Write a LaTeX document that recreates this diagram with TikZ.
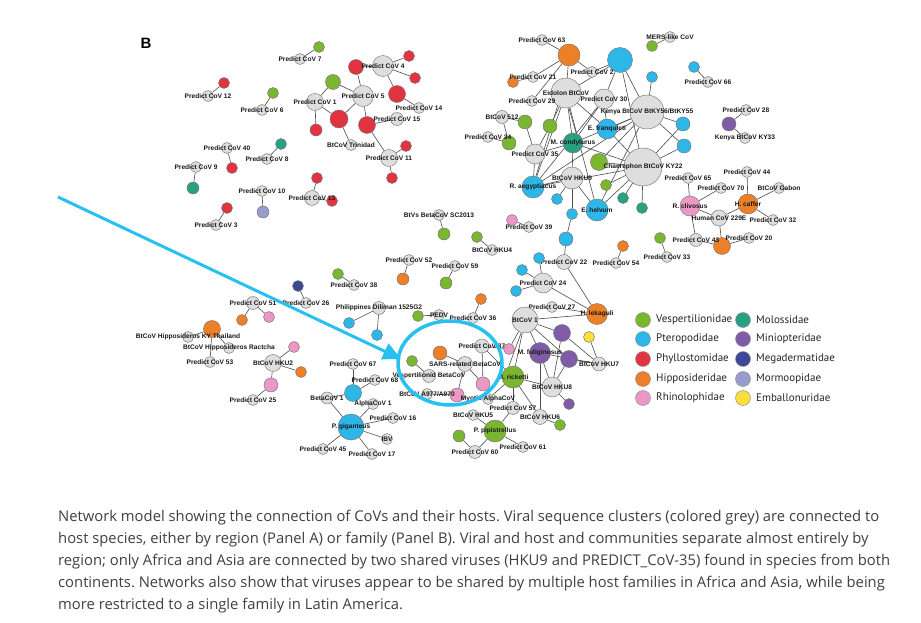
\documentclass[tikz,border=0pt]{standalone}
\usepackage{fontspec}
\setsansfont{Liberation Sans}
\newfontfamily\legfont{PT Sans}
\newfontfamily\capfont{Open Sans}
\usetikzlibrary{arrows.meta,shapes.geometric}

\definecolor{virc}{RGB}{222,222,222}
\definecolor{vespc}{RGB}{122,182,48}
\definecolor{ptec}{RGB}{45,182,232}
\definecolor{phyc}{RGB}{226,52,64}
\definecolor{hipc}{RGB}{236,128,40}
\definecolor{rhic}{RGB}{236,152,196}
\definecolor{molc}{RGB}{40,160,130}
\definecolor{minc}{RGB}{128,92,168}
\definecolor{megc}{RGB}{62,72,150}
\definecolor{morc}{RGB}{150,156,206}
\definecolor{embc}{RGB}{250,222,60}
\definecolor{arrc}{RGB}{40,192,240}
\definecolor{capc}{RGB}{64,64,64}

\pgfdeclarelayer{bg}
\pgfsetlayers{bg,main}

\tikzset{
	nd/.style={shape=circle, draw=black!55, line width=0.45pt, inner sep=0pt, minimum size=11pt},
	vir/.style={nd, fill=virc},
	vesp/.style={nd, fill=vespc},
	ptero/.style={nd, fill=ptec},
	phyl/.style={nd, fill=phyc},
	hipp/.style={nd, fill=hipc},
	rhin/.style={nd, fill=rhic},
	molo/.style={nd, fill=molc},
	minio/.style={nd, fill=minc},
	mega/.style={nd, fill=megc},
	mormo/.style={nd, fill=morc},
	emba/.style={nd, fill=embc},
	lab/.style={font=\sffamily\bfseries\fontsize{6.6}{7}\selectfont, text=black!90, inner sep=0pt},
	txt/.style={label={[lab]center:#1}},
	lnk/.style={-, draw=black!70, line width=0.6pt},
	legc/.style={nd, minimum size=15pt, draw=black!45},
	legt/.style={anchor=west, font=\legfont\fontsize{11}{12}\selectfont, text=black!85, inner sep=0pt},
	captxt/.style={anchor=base west, font=\capfont\fontsize{14.8}{16}\selectfont\frenchspacing, text=capc, inner sep=0pt},
}

\begin{document}
\begin{tikzpicture}[x=1pt, y=-1pt]
	\useasboundingbox (0,0) rectangle (921,623);

	\node[font=\sffamily\bfseries\fontsize{15}{15}\selectfont] (pb) at (146,43) {B};

	% top left, Latin America
	\node[vesp] (g7) at (319,47) {};
	\node[vir, txt=Predict CoV 7] (pc7) at (300,59) {};
	\node[phyl] (r12) at (224,83) {};
	\node[vir, txt=Predict CoV 12] (pc12) at (208,96) {};
	\node[vesp] (g6) at (273,93) {};
	\node[vir, txt=Predict CoV 6] (pc6) at (262,110) {};
	\node[vesp, minimum size=15pt] (g15) at (333,82) {};
	\node[phyl, minimum size=18pt] (r1b) at (339,119) {};
	\node[phyl, minimum size=12pt] (r1c) at (316,130) {};
	\node[vir, minimum size=17pt, txt=Predict CoV 1] (pc1) at (315,102) {};
	\node[vir, txt=BtCoV Trinidad] (trin) at (351,145) {};
	\node[phyl] (r4a) at (409,56) {};
	\node[phyl] (r4b) at (415,78) {};
	\node[phyl, minimum size=15pt] (r5a) at (356,67) {};
	\node[phyl, minimum size=17pt] (r14) at (397,94) {};
	\node[phyl, minimum size=17pt] (r15) at (367,125) {};
	\node[vir, minimum size=21pt, txt=Predict CoV 4] (pc4) at (383,66) {};
	\node[vir, minimum size=21pt, txt=Predict CoV 5] (pc5) at (363,96) {};
	\node[vir, txt=Predict CoV 14] (pc14) at (419,108) {};
	\node[vir, minimum size=13pt, txt=Predict CoV 15] (pc15) at (397,119) {};
	\node[phyl] (r11a) at (406,146) {};
	\node[phyl] (r11b) at (392,178) {};
	\node[vir, minimum size=17pt, txt=Predict CoV 11] (pc11) at (389,158) {};
	\node[phyl] (r40) at (232,168) {};
	\node[vir, txt=Predict CoV 40] (pc40) at (227,148) {};
	\node[molo] (t8) at (281,144) {};
	\node[vir, txt=Predict CoV 8] (pc8) at (267,159) {};
	\node[molo, minimum size=12pt] (t9) at (193,188) {};
	\node[vir, txt=Predict CoV 9] (pc9) at (196,167) {};
	\node[phyl] (r13) at (317,178) {};
	\node[phyl] (r13b) at (332,201) {};
	\node[vir, minimum size=15pt, txt=Predict CoV 13] (pc13) at (312,198) {};
	\node[mormo, minimum size=12pt] (m10) at (263,212) {};
	\node[vir, txt=Predict CoV 10] (pc10) at (262,191) {};
	\node[phyl] (r3) at (227,208) {};
	\node[vir, txt=Predict CoV 3] (pc3) at (216,225) {};

	% top right, Africa
	\node[hipp, minimum size=22pt] (tper) at (569,55) {};
	\node[vir, txt=Predict CoV 63] (pc63) at (542,40) {};
	\node[vesp] (gmers) at (652,46) {};
	\node[vir, txt=MERS-like CoV] (mers) at (670,37) {};
	\node[ptero, minimum size=25pt] (mwoe) at (620,60) {};
	\node[hipp] (o21) at (513,82) {};
	\node[ptero] (b77) at (652,77) {};
	\node[ptero] (b66) at (694,67) {};
	\node[vir, txt=Predict CoV 66] (pc66) at (708,82) {};
	\node[vir, txt=Predict CoV 2] (pc2) at (592,72) {};
	\node[vir, txt=Predict CoV 21] (pc21) at (533,77) {};
	\node[vir, minimum size=30pt, txt=Eidolon BtCoV] (eid) at (566,93) {};
	\node[vir, txt=Predict CoV 29] (pc29) at (532,101) {};
	\node[vir, minimum size=20pt, txt=Predict CoV 30] (pc30) at (604,99) {};
	\node[vir, minimum size=34pt] (kenya) at (647,112) {};
	\node[minio, minimum size=14pt] (p28) at (729,124) {};
	\node[vir, txt=Predict CoV 28] (pc28) at (746,110) {};
	\node[vir, txt=Kenya BtCoV KY33] (ky33) at (745,138) {};
	\node[vesp, minimum size=14pt] (g122) at (525,122) {};
	\node[vesp, minimum size=14pt] (g126) at (550,126) {};
	\node[vesp, minimum size=14pt] (g144) at (509,143) {};
	\node[vir, minimum size=13pt, txt=BtCoV 512] (bt512) at (502,117) {};
	\node[vir, txt=Predict CoV 34] (pc34) at (488,137) {};
	\node[ptero, minimum size=14pt] (b124) at (683,124) {};
	\node[ptero, minimum size=14pt] (b146) at (684,146) {};
	\node[ptero, minimum size=20pt, txt=E. franquleti] (efra) at (607,129) {};
	\node[label={[lab]center:Kenya BtCoV BtKY56/BtKY55}] (kenyat) at (647,112) {};
	\node[molo, minimum size=20pt, txt=M. condylurus] (mcon) at (573,143) {};
	\node[vir, minimum size=20pt, txt=Predict CoV 35] (pc35) at (535,154) {};
	\node[vesp, minimum size=17pt] (g162) at (599,162) {};
	\node[vir, minimum size=38pt, txt=Chaerephon BtCoV KY22] (chae) at (643,167) {};
	\node[vesp] (g185) at (606,185) {};
	\node[molo] (t198) at (623,198) {};
	\node[molo] (t208) at (642,208) {};
	\node[ptero] (b199) at (557,199) {};
	\node[ptero] (b214) at (572,214) {};
	\node[vir, minimum size=22pt, txt=BtCoV HKU9] (hku9) at (572,178) {};
	\node[ptero, minimum size=22pt, txt=R. aegyptiacus] (raeg) at (533,187) {};
	\node[ptero, minimum size=22pt, txt=E. helvum] (ehel) at (597,210) {};
	\node[rhin] (p220) at (512,220) {};
	\node[vir, txt=Predict CoV 39] (pc39) at (529,227) {};
	\node[ptero, minimum size=14pt] (b239) at (566,239) {};
	\node[vir, minimum size=15pt, txt=Predict CoV 22] (pc22) at (564,262) {};

	% right
	\node[vir, txt=Predict CoV 65] (pc65) at (688,178) {};
	\node[vir, txt=Predict CoV 70] (pc70) at (721,188) {};
	\node[vir, txt=Predict CoV 44] (pc44) at (747,172) {};
	\node[vir, txt=BtCoV Gabon] (gab) at (779,188) {};
	\node[vir, txt=Predict CoV 32] (pc32) at (773,220) {};
	\node[hipp, minimum size=17pt] (o246) at (722,246) {};
	\node[vir, minimum size=13pt, txt=Predict CoV 43] (pc43) at (696,240) {};
	\node[vir, txt=Predict CoV 20] (pc20) at (749,238) {};
	\node[rhin, minimum size=20pt, txt=R. clivosus] (rcli) at (690,206) {};
	\node[hipp, minimum size=20pt, txt=H. caffer] (hcaf) at (748,204) {};
	\node[vir, minimum size=16pt, txt=Human CoV 229E] (hcov) at (719,218) {};
	\node[vesp] (g238) at (660,238) {};
	\node[vir, txt=Predict CoV 33] (pc33) at (667,257) {};
	\node[hipp] (o624) at (623,246) {};
	\node[vir, txt=Predict CoV 54] (pc54) at (616,263) {};

	% middle
	\node[vesp, minimum size=12pt] (g234) at (444,234) {};
	\node[vir, txt=BtVs BetaCoV SC2013] (sc2013) at (439,215) {};
	\node[vesp] (g237) at (477,237) {};
	\node[vir, txt=BtCoV HKU4] (hku4) at (492,250) {};
	\node[hipp, minimum size=12pt] (o279) at (403,279) {};
	\node[vir, txt=Predict CoV 52] (pc52) at (409,260) {};
	\node[vesp, minimum size=12pt] (g283) at (446,283) {};
	\node[vir, txt=Predict CoV 59] (pc59) at (455,266) {};
	\node[vesp] (g274) at (338,274) {};
	\node[vir, txt=Predict CoV 38] (pc38) at (354,285) {};
	\node[mega] (n286) at (298,286) {};
	\node[vir, txt=Predict CoV 26] (pc26) at (306,303) {};
	\node[ptero] (b323) at (349,323) {};
	\node[ptero] (b335) at (377,335) {};
	\node[vir, minimum size=13pt, txt=Philippines Diliman 1525G2] (phil) at (379,308) {};
	\node[vesp] (g316) at (418,316) {};
	\node[vir, txt=PEDV] (pedv) at (439,315) {};
	\node[hipp] (o299) at (481,299) {};
	\node[vir, txt=Predict CoV 36] (pc36) at (473,318) {};
	\node[ptero] (b258) at (539,258) {};
	\node[ptero] (b270) at (522,270) {};
	\node[ptero] (b291) at (516,291) {};
	\node[vir, minimum size=20pt, txt=Predict CoV 24] (pc24) at (543,283) {};
	\node[vir, txt=Predict CoV 27] (pc27) at (552,307) {};
	\node[vir, minimum size=26pt, txt=BtCoV 1] (btc1) at (525,320) {};
	\node[hipp, minimum size=21pt, txt=H. lekaguli] (hlek) at (597,314) {};
	\node[minio, minimum size=17pt] (p333) at (562,333) {};
	\node[emba] (y337) at (589,337) {};
	\node[rhin] (p349) at (509,349) {};
	\node[minio, minimum size=17pt] (p359) at (569,359) {};
	\node[minio] (p404) at (569,404) {};
	\node[vesp] (g425) at (560,425) {};
	\node[minio, minimum size=21pt, txt=M. fuliginosus] (mful) at (540,353) {};
	\node[vir, minimum size=14pt, txt=BtCoV HKU7] (hku7) at (599,364) {};
	\node[vir, minimum size=20pt, txt=BtCoV HKU8] (hku8) at (552,387) {};
	\node[vir, minimum size=15pt, txt=BtCoV HKU6] (hku6) at (540,417) {};
	\node[hipp, minimum size=14pt] (o353) at (440,353) {};
	\node[vesp] (g361) at (412,361) {};
	\node[rhin, minimum size=14pt] (p384) at (483,384) {};
	\node[rhin, minimum size=14pt] (p395) at (457,395) {};
	\node[vesp, minimum size=12pt] (g436) at (459,436) {};
	\node[vesp, minimum size=22pt, txt=M. ricketti] (mric) at (513,377) {};
	\node[vesp, minimum size=22pt, txt=P. pipistrellus] (ppip) at (495,431) {};
	\node[vir, minimum size=14pt, txt=Predict CoV 37] (pc37) at (482,346) {};
	\node[vir, minimum size=15pt, txt=SARS-related BetaCoV] (sars) at (465,364) {};
	\node[vir, minimum size=13pt, txt=Vespertilionid BetaCoV] (vesp) at (429,376) {};
	\node[vir, txt=BtCoV A977/A970] (a970) at (427,394) {};
	\node[vir, txt=Myotis AlphaCoV] (myo) at (488,399) {};
	\node[vir, minimum size=13pt, txt=Predict CoV 57] (pc57) at (513,408) {};
	\node[vir, txt=BtCoV HKU5] (hku5) at (473,415) {};
	\node[vir, minimum size=13pt, txt=Predict CoV 60] (pc60) at (475,452) {};
	\node[vir, txt=Predict CoV 61] (pc61) at (523,447) {};

	% left, Asia
	\node[hipp] (o320) at (242,320) {};
	\node[rhin] (p317) at (269,317) {};
	\node[vir, minimum size=13pt, txt=Predict CoV 51] (pc51) at (253,303) {};
	\node[hipp, minimum size=17pt] (o329) at (212,329) {};
	\node[vir, txt=BtCoV Hipposideros KY Thailand] (kyth) at (188,337) {};
	\node[vir, txt=BtCoV Hipposideros Ractcha] (ract) at (229,348) {};
	\node[vir, txt=Predict CoV 53] (pc53) at (210,362) {};
	\node[rhin] (p347) at (294,347) {};
	\node[hipp] (o372) at (301,372) {};
	\node[rhin, minimum size=14pt] (p385) at (271,385) {};
	\node[vir, minimum size=17pt, txt=BtCoV HKU2] (hku2) at (273,363) {};
	\node[vir, txt=Predict CoV 25] (pc25) at (253,400) {};
	\node[ptero, minimum size=17pt] (b393) at (353,393) {};
	\node[ptero, minimum size=26pt] (pgig) at (351,427) {};
	\node[vir, txt=Predict CoV 67] (pc67) at (353,364) {};
	\node[vir, txt=Predict CoV 68] (pc68) at (375,380) {};
	\node[vir, minimum size=12pt, txt=BetaCoV 1] (beta1) at (327,398) {};
	\node[vir, txt=AlphaCoV 1] (alpha1) at (373,404) {};
	\node[vir, txt=Predict CoV 16] (pc16) at (393,418) {};
	\node[vir, txt=IBV] (ibv) at (387,439) {};
	\node[vir, txt=Predict CoV 45] (pc45) at (323,449) {};
	\node[vir, txt=Predict CoV 17] (pc17) at (372,454) {};
	\node[label={[lab]center:P. giganteus}] (pgigt) at (351,427) {};

	\begin{pgfonlayer}{bg}
	\fill[white] (0,0) rectangle (921,623);
	\path[lnk] (g7) edge (pc7);
	\path[lnk] (r12) edge (pc12);
	\path[lnk] (g6) edge (pc6);
	\path[lnk] (pc1) edge (g15);
	\path[lnk] (pc1) edge (r1b);
	\path[lnk] (pc1) edge (r1c);
	\path[lnk] (r1b) edge (trin);
	\path[lnk] (r1b) edge (pc5);
	\path[lnk] (g15) edge (pc5);
	\path[lnk] (r5a) edge (pc5);
	\path[lnk] (r15) edge (pc5);
	\path[lnk] (r5a) edge (pc4);
	\path[lnk] (pc4) edge (r4a);
	\path[lnk] (pc4) edge (r4b);
	\path[lnk] (pc4) edge (r14);
	\path[lnk] (r14) edge (pc14);
	\path[lnk] (r15) edge (pc15);
	\path[lnk] (r15) edge (pc11);
	\path[lnk] (r11a) edge (pc11);
	\path[lnk] (r11b) edge (pc11);
	\path[lnk] (pc40) edge (r40);
	\path[lnk] (t8) edge (pc8);
	\path[lnk] (pc9) edge (t9);
	\path[lnk] (r13) edge (pc13);
	\path[lnk] (pc13) edge (r13b);
	\path[lnk] (pc10) edge (m10);
	\path[lnk] (r3) edge (pc3);

	\path[lnk] (pc63) edge (tper);
	\path[lnk] (tper) edge (pc21);
	\path[lnk] (tper) edge (pc29);
	\path[lnk] (tper) edge (eid);
	\path[lnk] (tper) edge (pc2);
	\path[lnk] (pc21) edge (o21);
	\path[lnk] (gmers) edge (mers);
	\path[lnk] (b66) edge (pc66);
	\path[lnk] (b77) edge (kenya);
	\path[lnk] (pc28) edge (p28);
	\path[lnk] (p28) edge (ky33);
	\path[lnk] (mwoe) edge (pc2);
	\path[lnk] (mwoe) edge (eid);
	\path[lnk] (mwoe) edge (pc30);
	\path[lnk] (mwoe) edge (kenya);
	\path[lnk] (mwoe) edge (chae);
	\path[lnk] (eid) edge (mcon);
	\path[lnk] ([xshift=3pt]eid.south) edge ([xshift=3pt]mcon.north);
	\path[lnk] (eid) edge (raeg);
	\path[lnk] ([xshift=3pt]eid.south west) edge ([xshift=3pt]raeg.north);
	\path[lnk] (eid) edge (efra);
	\path[lnk] (eid) edge (ehel);
	\path[lnk] (eid) edge (g126);
	\path[lnk] (pc30) edge (efra);
	\path[lnk] (pc30) edge (mcon);
	\path[lnk] (pc30) edge (raeg);
	\path[lnk] (kenya) edge (efra);
	\path[lnk] (kenya) edge (b124);
	\path[lnk] (kenya) edge (b146);
	\path[lnk] (kenya) edge (mcon);
	\path[lnk] (kenya) edge (raeg);
	\path[lnk] (kenya) edge (ehel);
	\path[lnk] (kenya) edge (g162);
	\path[lnk] (chae) edge (b124);
	\path[lnk] (chae) edge (b146);
	\path[lnk] (chae) edge (efra);
	\path[lnk] (chae) edge (mcon);
	\path[lnk] (chae) edge (g162);
	\path[lnk] (chae) edge (g185);
	\path[lnk] (chae) edge (t198);
	\path[lnk] (chae) edge (t208);
	\path[lnk] (chae) edge (ehel);
	\path[lnk] (chae) edge (raeg);
	\path[lnk] (pc35) edge (g122);
	\path[lnk] (pc35) edge (g126);
	\path[lnk] (pc35) edge (mcon);
	\path[lnk] (pc35) edge (raeg);
	\path[lnk] (bt512) edge (g122);
	\path[lnk] (bt512) edge (g144);
	\path[lnk] (pc34) edge (g144);
	\path[lnk] (hku9) edge (raeg);
	\path[lnk] (hku9) edge (ehel);
	\path[lnk] (hku9) edge (b199);
	\path[lnk] (hku9) edge (b214);
	\path[lnk] (b214) edge (b239);
	\path[lnk] (hku9) edge (mcon);
	\path[lnk] (p220) edge (pc39);
	\path[lnk] (b239) edge (pc22);
	\path[lnk] (pc22) edge (hlek);

	\path[lnk] (pc65) edge (rcli);
	\path[lnk] (pc70) edge (rcli);
	\path[lnk] (rcli) edge (hcov);
	\path[lnk] (rcli) edge (pc43);
	\path[lnk] (hcov) edge (hcaf);
	\path[lnk] (hcov) edge (o246);
	\path[lnk] (pc43) edge (o246);
	\path[lnk] (pc20) edge (o246);
	\path[lnk] (pc44) edge (hcaf);
	\path[lnk] (gab) edge (hcaf);
	\path[lnk] (pc32) edge (hcaf);
	\path[lnk] (g238) edge (pc33);
	\path[lnk] (o624) edge (pc54);

	\path[lnk] (sc2013) edge (g234);
	\path[lnk] (g237) edge (hku4);
	\path[lnk] (pc52) edge (o279);
	\path[lnk] (pc59) edge (g283);
	\path[lnk] (g274) edge (pc38);
	\path[lnk] (n286) edge (pc26);
	\path[lnk] (phil) edge (b323);
	\path[lnk] (phil) edge (b335);
	\path[lnk] (g316) edge (pedv);
	\path[lnk] (o299) edge (pc36);
	\path[lnk] (b258) edge (pc24);
	\path[lnk] (b270) edge (pc24);
	\path[lnk] (b291) edge (pc24);
	\path[lnk] (pc24) edge (hlek);
	\path[lnk] (pc27) edge (hlek);
	\path[lnk] (btc1) edge (hlek);
	\path[lnk] (btc1) edge (mric);
	\path[lnk] ([xshift=-4pt]btc1.south) edge ([xshift=-4pt]mric.north);
	\path[lnk] (btc1) edge (mful);
	\path[lnk] (btc1) edge (p333);
	\path[lnk] (btc1) edge (p359);
	\path[lnk] (btc1) edge (p349);
	\path[lnk] (hku7) edge (y337);
	\path[lnk] (hku7) edge (p333);
	\path[lnk] (hku7) edge (p359);
	\path[lnk] (hku7) edge (mful);
	\path[lnk] (hku8) edge (mful);
	\path[lnk] (hku8) edge (p333);
	\path[lnk] (hku8) edge (p359);
	\path[lnk] (hku8) edge (p404);
	\path[lnk] (hku8) edge (mric);
	\path[lnk] (hku6) edge (mful);
	\path[lnk] (hku6) edge (g425);
	\path[lnk] (hku6) edge (mric);
	\path[lnk] (pc57) edge (mric);
	\path[lnk] (pc57) edge (ppip);
	\path[lnk] (myo) edge (mric);
	\path[lnk] (hku5) edge (ppip);
	\path[lnk] (pc60) edge (ppip);
	\path[lnk] (pc60) edge (g436);
	\path[lnk] (pc61) edge (ppip);
	\path[lnk] (sars) edge (o353);
	\path[lnk] (sars) edge (p384);
	\path[lnk] (sars) edge (p395);
	\path[lnk] (vesp) edge (g361);
	\path[lnk] (a970) edge (p395);
	\path[lnk] (pc37) edge (p384);
	\path[lnk] (pc37) edge (mric);
	\path[lnk] (pc37) edge (p349);

	\path[lnk] (pc51) edge (o320);
	\path[lnk] (pc51) edge (p317);
	\path[lnk] (o329) edge (kyth);
	\path[lnk] (o329) edge (ract);
	\path[lnk] (o329) edge (pc53);
	\path[lnk] (hku2) edge (p347);
	\path[lnk] (hku2) edge (o372);
	\path[lnk] (hku2) edge (p385);
	\path[lnk] (p385) edge (pc25);
	\path[lnk] (pc67) edge (b393);
	\path[lnk] (pc68) edge (b393);
	\path[lnk] (beta1) edge (b393);
	\path[lnk] (beta1) edge (pgig);
	\path[lnk] (alpha1) edge (pgig);
	\path[lnk] (pc16) edge (pgig);
	\path[lnk] (ibv) edge (pgig);
	\path[lnk] (pc45) edge (pgig);
	\path[lnk] (pc17) edge (pgig);
	\end{pgfonlayer}

	% highlight
	\node[draw=arrc, line width=3.5pt, ellipse, minimum width=104pt, minimum height=84pt] (ring) at (450,363) {};
	\coordinate (arrs) at (58,197);
	\coordinate (arre) at (401,359);
	\draw[arrc, line width=3pt, -{Triangle[length=18pt,width=17pt]}] (arrs) -- (arre);

	% legend
	\node[legc, fill=vespc] (lg1) at (643,320) {};
	\node[legc, fill=ptec] (lg2) at (643,339) {};
	\node[legc, fill=phyc] (lg3) at (643,359) {};
	\node[legc, fill=hipc] (lg4) at (643,379) {};
	\node[legc, fill=rhic] (lg5) at (643,398) {};
	\node[legc, fill=molc] (lg6) at (743,320) {};
	\node[legc, fill=minc] (lg7) at (743,339) {};
	\node[legc, fill=megc] (lg8) at (743,359) {};
	\node[legc, fill=morc] (lg9) at (743,379) {};
	\node[legc, fill=embc] (lg10) at (743,398) {};
	\node[legt] (lt1) at (656,320) {Vespertilionidae};
	\node[legt] (lt2) at (656,339) {Pteropodidae};
	\node[legt] (lt3) at (656,359) {Phyllostomidae};
	\node[legt] (lt4) at (656,379) {Hipposideridae};
	\node[legt] (lt5) at (656,398) {Rhinolophidae};
	\node[legt] (lt6) at (756,320) {Molossidae};
	\node[legt] (lt7) at (756,339) {Miniopteridae};
	\node[legt] (lt8) at (756,359) {Megadermatidae};
	\node[legt] (lt9) at (756,379) {Mormoopidae};
	\node[legt] (lt10) at (756,398) {Emballonuridae};

	% caption
	\node[captxt] (c1) at (58,521) {Network model showing the connection of CoVs and their hosts. Viral sequence clusters (colored grey) are connected to};
	\node[captxt] (c2) at (58,543) {host species, either by region (Panel A) or family (Panel B). Viral and host and communities separate almost entirely by};
	\node[captxt] (c3) at (58,565) {region; only Africa and Asia are connected by two shared viruses (HKU9 and PREDICT\_CoV-35) found in species from both};
	\node[captxt] (c4) at (58,587) {continents. Networks also show that viruses appear to be shared by multiple host families in Africa and Asia, while being};
	\node[captxt] (c5) at (58,609) {more restricted to a single family in Latin America.};

\end{tikzpicture}
\end{document}
